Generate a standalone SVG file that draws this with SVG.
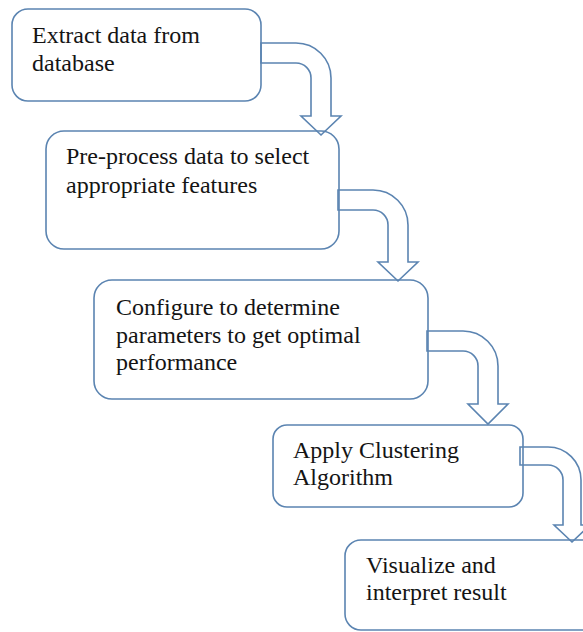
<svg xmlns="http://www.w3.org/2000/svg" width="583" height="632" viewBox="0 0 583 632">
<style>
.box{fill:#ffffff;stroke:#5b84b1;stroke-width:1.6}
.arr{fill:none;stroke:#5b84b1;stroke-width:1.6;stroke-linejoin:miter}
text{font-family:'Times New Roman','Liberation Serif',Tinos,'Noto Serif','DejaVu Serif',FreeSerif,serif;font-size:24px;fill:#141414}
</style>
<rect width="583" height="632" fill="#ffffff"/>
<g id="node1">
<rect class="box" x="12" y="9" width="249" height="92" rx="16"/>
<text x="32" y="43">Extract data from</text>
<text x="32" y="71">database</text>
</g>
<g id="node2">
<rect class="box" x="46" y="131" width="293" height="118" rx="18"/>
<text x="66" y="164">Pre-process  data to select</text>
<text x="66" y="193">appropriate features</text>
</g>
<g id="node3">
<rect class="box" x="94" y="280" width="334" height="119" rx="18"/>
<text x="116" y="315">Configure to determine</text>
<text x="116" y="343">parameters to get optimal</text>
<text x="116" y="370">performance</text>
</g>
<g id="node4">
<rect class="box" x="273" y="425" width="250" height="82" rx="14"/>
<text x="293" y="458">Apply Clustering</text>
<text x="293" y="485">Algorithm</text>
</g>
<g id="node5">
<rect class="box" x="345" y="540" width="270" height="90" rx="16"/>
<text x="366" y="573">Visualize and</text>
<text x="366" y="600">interpret result</text>
</g>
<g id="connectors">
<path class="arr" d="M261,43 H296 A35,35 0 0 1 331,78 V116 H341 L321,135 L301,116 H311 V78 A15,15 0 0 0 296,63 H261 Z"/>
<path class="arr" d="M338,190 H373 A35,35 0 0 1 408,225 V262 H418 L398,281 L378,262 H388 V225 A15,15 0 0 0 373,210 H338 Z"/>
<path class="arr" d="M427,331 H463 A35,35 0 0 1 498,366 V404 H508 L488,424 L468,404 H478 V366 A15,15 0 0 0 463,351 H427 Z"/>
<path class="arr" d="M520,447 H548 A33,33 0 0 1 581,480 V525 H590 L572,542 L554,525 H563 V480 A15,15 0 0 0 548,465 H520 Z"/>
</g>
</svg>
